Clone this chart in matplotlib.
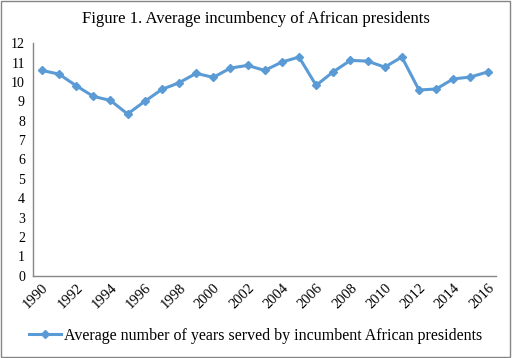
import matplotlib
matplotlib.use("Agg")
import matplotlib.pyplot as plt
from matplotlib.patches import Rectangle

years = list(range(1990, 2017))
incumbency = [10.60, 10.41, 9.81, 9.26, 9.05, 8.35, 9.00, 9.62, 9.96, 10.45,
              10.24, 10.72, 10.86, 10.60, 11.03, 11.29, 9.83, 10.53, 11.12, 11.08,
              10.77, 11.29, 9.59, 9.64, 10.16, 10.26, 10.52]
year_labels = [str(y) if (y - 1990) % 2 == 0 else "" for y in years]

plt.rcParams["font.family"] = ["Liberation Serif", "DejaVu Serif"]
blue = "#5B9BD5"
grey = "#868686"

fig = plt.figure(figsize=(5.12, 3.58), dpi=100)
ax = fig.add_axes([0.065, 0.230, 0.904, 0.649])

x = list(range(len(years)))
ax.plot(x, incumbency, color=blue, linewidth=2.2, marker="D", markersize=4,
        label="Average number of years served by incumbent African presidents")

ax.set_xlim(-0.5, len(years) - 0.5)
ax.set_ylim(0, 12)
ax.set_yticks(range(0, 13))
ax.set_xticks(x)
ax.set_xticklabels(year_labels, rotation=45, ha="right", rotation_mode="anchor",
                   fontsize=10.5)
ax.tick_params(axis="y", length=0, labelsize=10, pad=6)
ax.tick_params(axis="x", length=0, pad=4)

for side in ["top", "right"]:
    ax.spines[side].set_visible(False)
for side in ["left", "bottom"]:
    ax.spines[side].set_color(grey)
    ax.spines[side].set_linewidth(1)

fig.text(0.5, 0.948, "Figure 1. Average incumbency of African presidents",
         ha="center", va="center", fontsize=12)

fig.legend(loc="center", bbox_to_anchor=(0.5, 0.062), frameon=False, fontsize=11.5,
           handlelength=2.0, handletextpad=0.2)

fig.patches.append(Rectangle((0.002, 0.003), 0.994, 0.993, transform=fig.transFigure,
                             fill=False, edgecolor=grey, linewidth=1))

fig.savefig("out.png", dpi=100)
